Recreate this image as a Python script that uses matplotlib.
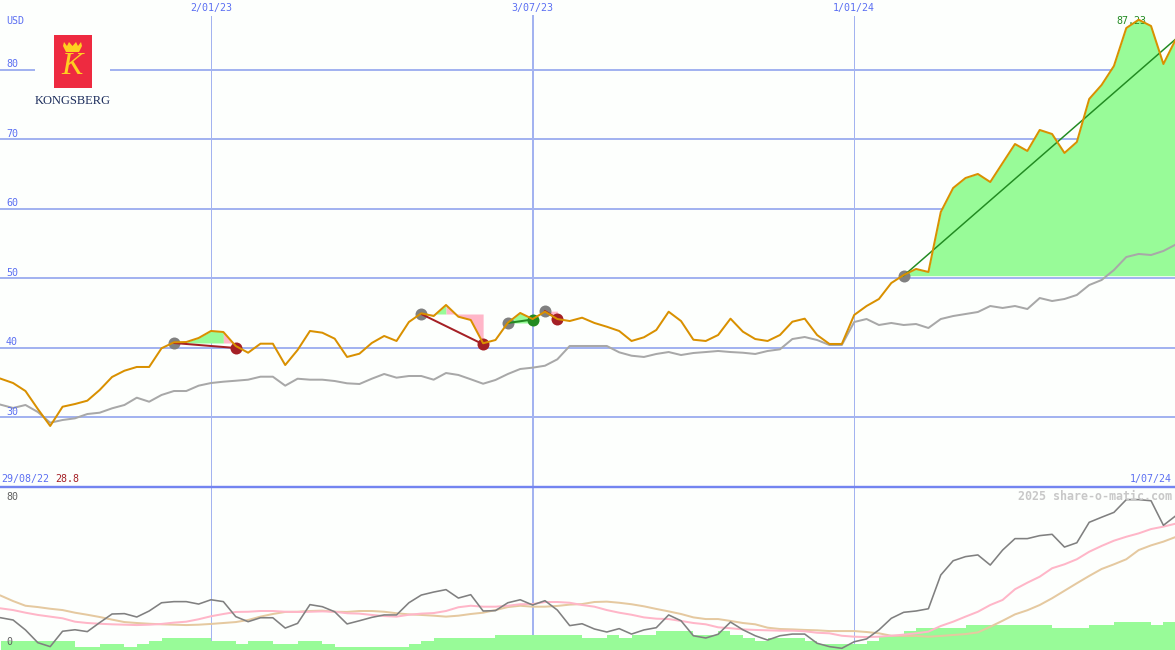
import matplotlib
matplotlib.use("Agg")
import matplotlib.pyplot as plt
import matplotlib.dates as mdates
from matplotlib.patches import Rectangle
import numpy as np
import pandas as pd

weeks = pd.date_range("2022-09-05", periods=96, freq="7D")

price = [35.58, 34.96, 33.81, 31.22, 28.78, 31.55, 31.94, 32.42, 33.96, 35.83, 36.73, 37.27,
         37.27, 39.96, 40.82, 40.86, 41.44, 42.45, 42.30, 40.29, 39.32, 40.62, 40.62, 37.55,
         39.71, 42.45, 42.20, 41.34, 38.71, 39.18, 40.72, 41.73, 41.01, 43.74, 44.99, 44.60,
         46.19, 44.50, 44.03, 40.68, 41.15, 43.64, 45.04, 44.17, 45.22, 44.17, 43.88, 44.36,
         43.60, 43.06, 42.45, 41.01, 41.54, 42.59, 45.22, 43.88, 41.19, 41.01, 41.87, 44.22,
         42.35, 41.29, 41.01, 41.87, 43.78, 44.22, 41.87, 40.58, 40.58, 44.75, 46.04, 47.05,
         49.35, 50.50, 51.37, 50.94, 59.57, 63.02, 64.46, 65.04, 63.88, 66.62, 69.35, 68.35,
         71.37, 70.79, 68.06, 69.64, 75.83, 77.84, 80.58, 86.04, 87.23, 86.33, 80.86, 84.42]

index_line = [31.84, 31.37, 31.80, 30.79, 29.25, 29.64, 29.88, 30.50, 30.69, 31.32, 31.80, 32.85,
              32.27, 33.24, 33.81, 33.81, 34.58, 34.96, 35.15, 35.29, 35.44, 35.87, 35.87, 34.58,
              35.58, 35.44, 35.44, 35.25, 34.92, 34.82, 35.58, 36.26, 35.73, 35.97, 35.97, 35.44,
              36.40, 36.12, 35.50, 34.86, 35.40, 36.26, 36.98, 37.17, 37.45, 38.37, 40.29, 40.29,
              40.29, 40.29, 39.38, 38.89, 38.71, 39.14, 39.42, 38.99, 39.28, 39.42, 39.57, 39.42,
              39.32, 39.14, 39.57, 39.81, 41.29, 41.58, 41.15, 40.43, 40.43, 43.74, 44.17, 43.31,
              43.60, 43.31, 43.45, 42.88, 44.17, 44.60, 44.89, 45.18, 46.04, 45.76, 46.04, 45.61,
              47.19, 46.76, 47.05, 47.63, 49.06, 49.78, 51.22, 53.09, 53.53, 53.38, 53.96, 54.89]

oscillator = [17.2, 16.0, 10.7, 3.9, 1.8, 10.0, 10.8, 9.8, 14.6, 19.2, 19.4, 17.6,
              20.8, 25.2, 25.8, 25.8, 24.5, 26.8, 25.8, 17.8, 15.1, 17.2, 17.2, 11.7,
              14.2, 24.2, 23.1, 20.4, 13.9, 15.6, 17.4, 18.7, 18.7, 25.2, 29.3, 30.9,
              32.2, 27.7, 29.5, 20.8, 21.0, 25.2, 26.8, 24.0, 26.3, 21.3, 13.0, 14.0,
              11.2, 9.6, 11.4, 8.5, 10.7, 11.9, 18.7, 15.6, 7.6, 6.4, 8.4, 14.9,
              10.8, 7.6, 5.3, 7.6, 8.5, 8.5, 3.6, 1.8, 0.9, 4.4, 5.9, 10.7,
              16.9, 20.1, 20.8, 22.0, 40.0, 47.6, 49.8, 50.7, 45.3, 53.3, 59.4, 59.4,
              61.0, 61.7, 54.9, 57.2, 68.1, 70.8, 73.4, 80.2, 80.2, 79.6, 66.5, 71.6]

pink_avg = [22.2, 21.3, 19.9, 18.7, 17.8, 16.9, 15.1, 14.4, 14.0, 13.7, 13.5, 13.3,
            13.5, 13.9, 14.6, 15.1, 16.4, 18.0, 19.2, 20.3, 20.4, 20.8, 20.8, 20.4,
            20.3, 20.4, 20.6, 20.4, 19.6, 19.4, 18.7, 18.1, 17.8, 18.8, 19.4, 19.7,
            20.8, 22.8, 23.6, 23.1, 23.1, 23.6, 24.4, 24.5, 25.6, 25.6, 25.2, 24.0,
            23.1, 21.3, 19.9, 18.8, 17.4, 16.7, 16.5, 15.5, 14.4, 13.7, 12.1, 11.6,
            11.0, 10.7, 10.5, 10.3, 10.3, 10.0, 9.2, 8.9, 7.6, 7.1, 6.9, 7.1,
            7.6, 8.2, 8.9, 9.8, 12.8, 15.1, 17.8, 20.4, 24.0, 26.7, 32.4, 35.9,
            39.1, 43.6, 45.7, 48.4, 52.4, 55.5, 58.3, 60.4, 62.2, 64.5, 65.8, 67.4]

tan_avg = [29.0, 26.1, 23.6, 22.9, 22.0, 21.3, 19.9, 18.8, 17.6, 16.2, 14.9, 14.4,
           14.0, 13.7, 13.5, 13.3, 13.5, 13.9, 14.4, 14.9, 16.0, 17.8, 19.2, 20.3,
           20.4, 20.8, 21.0, 20.4, 20.3, 20.8, 20.8, 20.4, 19.6, 19.0, 18.7, 18.3,
           17.8, 18.3, 19.2, 19.9, 21.3, 22.9, 23.6, 23.1, 23.1, 23.5, 24.2, 24.5,
           25.6, 25.8, 25.2, 24.4, 23.3, 21.9, 20.6, 19.2, 17.4, 16.5, 16.5, 15.5,
           14.4, 13.7, 11.9, 11.2, 11.0, 10.7, 10.5, 10.1, 10.1, 10.1, 9.6, 8.9,
           7.6, 7.5, 7.5, 7.1, 7.5, 8.0, 8.5, 9.4, 12.4, 15.6, 19.0, 21.2,
           24.0, 27.6, 31.6, 35.6, 39.5, 43.2, 45.7, 48.4, 53.3, 55.8, 57.8, 60.3]

volume = [4.8, 4.8, 4.8, 4.8, 4.8, 4.8, 1.6, 1.6, 3.2, 3.2, 1.6, 3.2,
          4.8, 6.4, 6.4, 6.4, 6.4, 4.8, 4.8, 3.2, 4.8, 4.8, 3.2, 3.2,
          4.8, 4.8, 3.2, 1.6, 1.6, 1.6, 1.6, 1.6, 1.6, 3.2, 4.8, 6.4,
          6.4, 6.4, 6.4, 6.4, 8, 8, 8, 8, 8, 8, 8, 6.4,
          6.4, 8, 6.4, 8, 8, 10, 10, 10, 8, 8, 10, 8,
          6.4, 4.8, 6.4, 6.4, 6.4, 4.8, 3.2, 3.2, 3.2, 3.2, 4.8, 7.6,
          7.6, 10, 11.7, 11.7, 11.7, 11.7, 13.3, 13.3, 13.3, 13.3, 13.3, 13.3,
          13.3, 11.7, 11.7, 11.7, 13.3, 13.3, 14.9, 14.9, 14.9, 13.3, 14.9, 14.9]

# trades: week index in, week index out, price in, price out
trade_in = [14, 34, 41, 44, 73]
trade_out = [19, 39, 43, 45, 95]
trade_in_price = [40.72, 44.89, 43.60, 45.30, 50.40]
trade_out_price = [40.00, 40.53, 44.10, 44.24, 84.46]
trade_won = [False, False, True, False, True]

grid_values = [30, 40, 50, 60, 70, 80]
tick_dates = pd.to_datetime(["2023-01-02", "2023-07-03", "2024-01-01"])
tick_labels = ["2/01/23", "3/07/23", "1/01/24"]
tick_widths = [1, 2, 1]

BG = "#fdfffd"
GRID = "#a3b3f0"
BLUE = "#5b6ff2"
GREEN_FILL = "#98fb98"
PINK_FILL = "#ffb6c8"
RED = "#a52025"
GREEN = "#228b22"
MONO = "DejaVu Sans Mono"
px = 0.72

fig = plt.figure(figsize=(11.75, 6.5), dpi=100, facecolor=BG)
ax_main = fig.add_axes([0, 163 / 650, 1, 487 / 650], facecolor=BG)
ax_low = fig.add_axes([0, 0, 1, 162 / 650], facecolor=BG)

x0 = mdates.date2num(tick_dates[0])
xlim = (x0 - 211 / 1.767, x0 + 964 / 1.767)
for ax in (ax_main, ax_low):
    ax.set_xlim(xlim)
    ax.set_xticks([])
    ax.set_yticks([])
    for s in ax.spines.values():
        s.set_visible(False)
ax_main.set_ylim(20, 90.07)
ax_low.set_ylim(0, 86.4)

# grid
for v in grid_values:
    ax_main.axhline(v, color=GRID, lw=2 * px, zorder=1)
    ax_main.text(6 / 1175, v + 0.86, str(v), color=BLUE, fontsize=7.2, family=MONO,
                 transform=ax_main.get_yaxis_transform(), va="center", ha="left", zorder=6)
for d, lab, w in zip(tick_dates, tick_labels, tick_widths):
    ax_main.axvline(d, ymax=(487 - 16) / 487, color=GRID, lw=w * px, zorder=1)
    ax_low.axvline(d, color=GRID, lw=w * px, zorder=1)
    ax_main.text(d, (487 - 8) / 487, lab, color=BLUE, fontsize=7.2, family=MONO,
                 transform=ax_main.get_xaxis_transform(), va="center", ha="center")

# trade fills, runs of weekly segments with the same colour share one polygon
price_arr = np.array(price)
for a, b, base in zip(trade_in, trade_out, trade_in_price):
    start = a
    for i in range(a, b):
        col = GREEN_FILL if price_arr[i + 1] > base else PINK_FILL
        next_col = None
        if i + 1 < b:
            next_col = GREEN_FILL if price_arr[i + 2] > base else PINK_FILL
        if col != next_col:
            ax_main.fill_between(weeks[start:i + 2], price_arr[start:i + 2], base, color=col,
                                 lw=0, zorder=2)
            start = i + 1

ax_main.plot(weeks, index_line, color="#a8a8a8", lw=2 * px, zorder=3)

for a, b, p0, p1, won in zip(trade_in, trade_out, trade_in_price, trade_out_price, trade_won):
    col = GREEN if won else RED
    lw = 1.5 * px if b - a > 10 else 2 * px
    ax_main.plot([weeks[a], weeks[b]], [p0, p1], color=col, lw=lw, zorder=4)
    ax_main.plot(weeks[a], p0, "o", color="#808080", ms=12 * px, mew=0, zorder=3.5)
    if b < len(weeks) - 1:
        ax_main.plot(weeks[b], p1, "o", color=col, ms=12 * px, mew=0, zorder=3.5)

ax_main.plot(weeks, price, color="#d99000", lw=2 * px, zorder=5)

ax_main.text(1 / 1175, (487 - 479) / 487, "29/08/22", color=BLUE, fontsize=7.2, family=MONO,
             transform=ax_main.transAxes, va="center", ha="left")
ax_main.text(55 / 1175, (487 - 479) / 487, "28.8", color=RED, fontsize=7.2, family=MONO,
             transform=ax_main.transAxes, va="center", ha="left")
ax_main.text(1172 / 1175, (487 - 479) / 487, "1/07/24", color=BLUE, fontsize=7.2, family=MONO,
             transform=ax_main.transAxes, va="center", ha="right")
ax_main.text(6 / 1175, (487 - 21) / 487, "USD", color=BLUE, fontsize=7.2, family=MONO,
             transform=ax_main.transAxes, va="center", ha="left")
ax_main.text(1131 / 1175, (487 - 21) / 487, "87.23", color=GREEN, fontsize=7.2, family=MONO,
             transform=ax_main.transAxes, va="center", ha="center", zorder=4)

# lower panel
ax_low.fill_between(weeks, volume, 0, step="post", color=GREEN_FILL, lw=0, antialiased=False, zorder=2)
ax_low.plot(weeks, tan_avg, color="#e5c9a0", lw=2 * px, zorder=3)
ax_low.plot(weeks, pink_avg, color="#ffb6c8", lw=2 * px, zorder=3.2)
ax_low.plot(weeks, oscillator, color="#808080", lw=1.6 * px, zorder=4)
ax_low.text(6 / 1175, (162 - 9) / 162, "80", color="#606060", fontsize=7.2, family=MONO,
            transform=ax_low.transAxes, va="center", ha="left")
ax_low.text(6 / 1175, 8 / 162, "0", color="#606060", fontsize=7.2, family=MONO,
            transform=ax_low.transAxes, va="center", ha="left", zorder=5)
ax_low.text(1172 / 1175, (162 - 9) / 162, "2025 share-o-matic.com", color="#c8c8c8", fontsize=8.4,
            family=MONO, weight="bold", transform=ax_low.transAxes, va="center", ha="right", zorder=5)

# overlay in pixel coordinates for the divider and the logo
ax_px = fig.add_axes([0, 0, 1, 1], facecolor="none")
ax_px.set_xlim(0, 1175)
ax_px.set_ylim(650, 0)
ax_px.axis("off")
ax_px.plot([0, 1175], [487, 487], color="#7384f0", lw=2.4 * px)
ax_px.add_patch(Rectangle((35, 48), 75, 62, color=BG, lw=0))
ax_px.add_patch(Rectangle((54, 35), 37.5, 53, color="#ee2a40", lw=0))
ax_px.fill([63, 64, 67, 69, 72.5, 76, 78, 81, 82, 79, 66],
           [46, 42, 46, 42, 46, 42, 46, 42, 46, 52, 52], color="#ffd020", lw=0)
ax_px.text(72.5, 67, "K", color="#ffd020", fontsize=23, family="Liberation Serif", style="italic",
           ha="center", va="center")
ax_px.text(73, 101, "KONGSBERG", color="#1c2d5c", fontsize=9.0, family="Liberation Serif",
           ha="center", va="center")

fig.savefig("out.png", dpi=100, facecolor=BG)
